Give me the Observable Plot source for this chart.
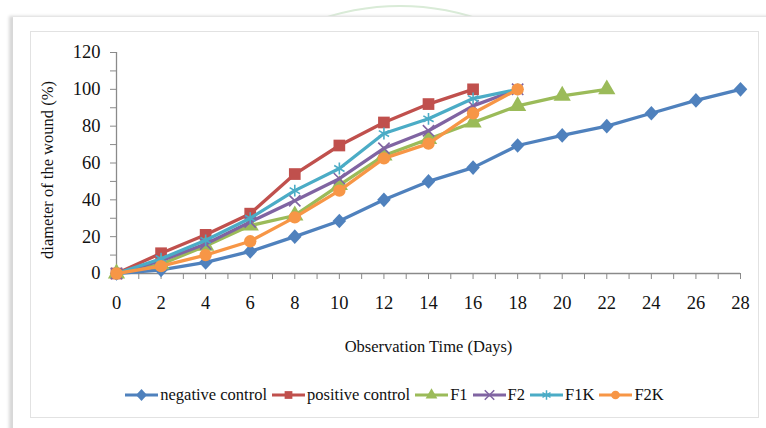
<!DOCTYPE html>
<html>
<head>
<meta charset="utf-8">
<script src="https://cdn.jsdelivr.net/npm/d3@7"></script>
<script src="https://cdn.jsdelivr.net/npm/@observablehq/plot@0.6"></script>
<style>
  body { margin: 0; background: #fff; width: 766px; height: 428px; overflow: hidden; position: relative; font-family: "Liberation Serif", "Times New Roman", serif; }
  #arc { position: absolute; left: 154px; top: 5px; width: 488px; height: 488px; border-radius: 50%; border: 2px solid #d9ebd7; }
  #panel { position: absolute; left: 13px; top: 16px; width: 780px; height: 440px; background: #fff; border-top: 1px solid #e6e6e6; box-shadow: -4px 0 3px #d8d8d8; }
  #inner { position: absolute; left: 30px; top: 31px; width: 727px; height: 385px; border: 1px solid #e2e2e2; }
  #chart { position: absolute; left: 0; top: 0; }
  #ylabel { position: absolute; left: 48px; top: 170px; transform: translate(-50%, -50%) rotate(-90deg); white-space: nowrap; font-family: "Liberation Serif", serif; font-size: 16.5px; color: #111; }
  #legend { position: absolute; left: 0; width: 766px; top: 385px; height: 20px; display: flex; justify-content: center; align-items: center; font-family: "Liberation Serif", serif; font-size: 16.5px; color: #111; padding-left: 28px; box-sizing: border-box; }
  .item { display: flex; align-items: center; margin-right: 5px; }
  .item svg { margin-right: 2px; }
</style>
</head>
<body>
<div id="arc"></div>
<div id="panel"></div>
<div id="inner"></div>
<div id="chart"></div>
<div id="ylabel">diameter of the wound (%)</div>
<div id="legend"></div>
<script>
const days = [0, 2, 4, 6, 8, 10, 12, 14, 16, 18, 20, 22, 24, 26, 28];
const seriesNames = ["negative control", "positive control", "F1", "F2", "F1K", "F2K"];
const negativeControl = [0, 2, 6, 12, 20, 28.5, 40, 50, 57.5, 69.5, 75, 80, 87, 94, 100];
const positiveControl = [0, 11, 21, 32.5, 54, 69.5, 82, 92, 100];
const F1 = [0, 5, 15, 26, 31.5, 48, 64, 73, 82, 91, 96.5, 100];
const F2 = [0, 7, 16, 28, 39.5, 51.5, 68, 77.5, 91, 100];
const F1K = [0, 8, 18, 30, 45, 57, 76, 84, 95, 100];
const F2K = [0, 4, 10, 17.5, 30.5, 45, 62.5, 70.5, 87, 100];
const colors = ["#4F81BD", "#C0504D", "#9BBB59", "#8064A2", "#4BACC6", "#F79646"];
const symbolNames = ["diamond", "square", "triangle", "times", "asterisk", "circle"];
const xTicks = d3.range(0, 29, 1);
const yTicks = d3.range(0, 121, 10);

// squat diamond like Excel's marker
const excelDiamond = {
  draw(context, size) {
    const r = Math.sqrt(size / 2);
    context.moveTo(0, -r * 1.08);
    context.lineTo(r, 0);
    context.lineTo(0, r * 1.08);
    context.lineTo(-r, 0);
    context.closePath();
  }
};
const symbolTypes = {diamond: excelDiamond, square: d3.symbolSquare, triangle: d3.symbolTriangle, times: d3.symbolTimes, asterisk: d3.symbolAsterisk, circle: d3.symbolCircle};

const values = [negativeControl, positiveControl, F1, F2, F1K, F2K];
const rows = [];
values.forEach((vals, i) => vals.forEach((v, j) => rows.push({series: seriesNames[i], day: days[j], value: v})));

const symR = {diamond: 5.4, square: 6.6, triangle: 6.4, times: 5.2, asterisk: 5.6, circle: 6.2};

const marks = [
  Plot.axisX({ticks: xTicks, tickFormat: d => d % 2 ? "" : d, tickSize: 6, tickPadding: 16, stroke: "#8a8a8a", fill: "#111", fontSize: 18.5, label: null}),
  Plot.axisY({ticks: yTicks, tickFormat: d => d % 20 ? "" : d, tickSize: 6, tickPadding: 10, stroke: "#8a8a8a", fill: "#111", fontSize: 18.5, label: null}),
  Plot.ruleY([0], {stroke: "#8a8a8a", strokeWidth: 1.3}),
  Plot.ruleX([0], {y1: 0, y2: 120, stroke: "#8a8a8a", strokeWidth: 1.3}),
  Plot.text(["Observation Time (Days)"], {frameAnchor: "bottom", dy: 78, fontSize: 16.5, fill: "#111", fontFamily: "Liberation Serif"})
];
seriesNames.forEach((s, i) => {
  const d = rows.filter(r => r.series === s);
  const name = symbolNames[i];
  marks.push(Plot.line(d, {x: "day", y: "value", stroke: colors[i], strokeWidth: 3.3}));
  const stroked = name === "times" || name === "asterisk";
  marks.push(Plot.dot(d, {x: "day", y: "value", symbol: symbolTypes[name], r: symR[name],
    fill: stroked ? "none" : colors[i], stroke: stroked ? colors[i] : "none", strokeWidth: stroked ? 1.6 : 0}));
});

const plot = Plot.plot({
  width: 766, height: 340,
  marginLeft: 116, marginRight: 26, marginTop: 52, marginBottom: 67,
  style: {fontFamily: "Liberation Serif", background: "transparent", overflow: "visible"},
  x: {domain: [0, 28], axis: null},
  y: {domain: [0, 120], axis: null},
  marks
});
document.getElementById("chart").appendChild(plot);

// legend
const legend = document.getElementById("legend");
seriesNames.forEach((s, i) => {
  const name = symbolNames[i];
  const item = document.createElement("div");
  item.className = "item";
  const svg = d3.create("svg").attr("width", 33).attr("height", 14);
  svg.append("line").attr("x1", 0).attr("x2", 33).attr("y1", 7).attr("y2", 7).attr("stroke", colors[i]).attr("stroke-width", 3);
  const stroked = name === "times" || name === "asterisk";
  svg.append("path").attr("transform", "translate(16.5,7)").attr("d", d3.symbol(symbolTypes[name], 60)())
    .attr("fill", stroked ? "none" : colors[i]).attr("stroke", stroked ? colors[i] : "none").attr("stroke-width", 1.5);
  item.appendChild(svg.node());
  const t = document.createElement("span");
  t.textContent = s;
  item.appendChild(t);
  legend.appendChild(item);
});
</script>
</body>
</html>
